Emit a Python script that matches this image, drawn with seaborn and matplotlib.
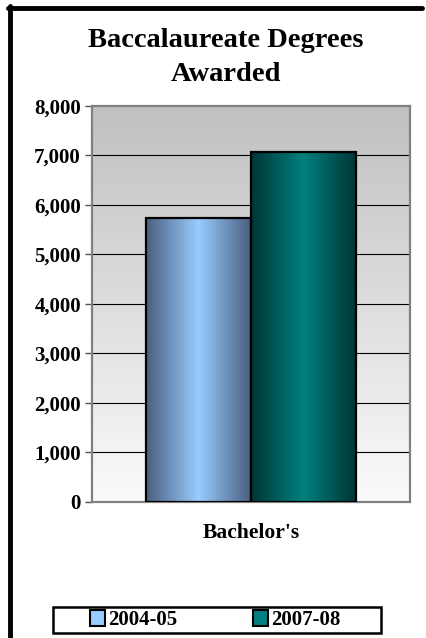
import numpy as np
import pandas as pd
import matplotlib
matplotlib.use('Agg')
import matplotlib.pyplot as plt
import seaborn as sns
from matplotlib.patches import Patch, Rectangle
from matplotlib.lines import Line2D
from matplotlib.colors import LinearSegmentedColormap

categories = ["Bachelor's"]
years = ['2004-05', '2007-08']
values = [5730, 7080]

colors = {'2004-05': '#99ccff', '2007-08': '#008080'}
edge_dark = {'2004-05': '#4a5f80', '2007-08': '#003535'}

df = pd.DataFrame({'degree': categories * len(years), 'year': years, 'count': values})

sns.set_style('white')
plt.rcParams['font.family'] = ['Liberation Serif', 'DejaVu Serif']
plt.rcParams['font.weight'] = 'bold'
plt.rcParams['text.color'] = 'black'
plt.rcParams['xtick.color'] = 'black'
plt.rcParams['ytick.color'] = 'black'

fig = plt.figure(figsize=(4.26, 6.38), dpi=100)
ax = fig.add_axes([0.216, 0.2132, 0.7464, 0.6207])

sns.barplot(data=df, x='degree', y='count', hue='year', palette=colors,
            width=0.66, edgecolor='black', linewidth=1.6, legend=False, ax=ax, zorder=3)

ax.set_ylim(0, 8000)
ax.set_xlim(-0.5, 0.5)

# background gradient gray -> white
bg = np.linspace(0, 1, 256).reshape(-1, 1)
bg_cmap = LinearSegmentedColormap.from_list('bg', ['#fbfbfb', '#c0c0c0'])
ax.imshow(bg, cmap=bg_cmap, aspect='auto', extent=[-0.5, 0.5, 0, 8000],
          origin='lower', zorder=0)

# shaded bars
for patch, yr in zip(ax.patches, years):
    x0, y0 = patch.get_x(), patch.get_y()
    w, h = patch.get_width(), patch.get_height()
    cm = LinearSegmentedColormap.from_list('b', [edge_dark[yr], colors[yr], edge_dark[yr]])
    grad = np.linspace(0, 1, 256).reshape(1, -1)
    im = ax.imshow(grad, cmap=cm, aspect='auto', extent=[x0, x0 + w, y0, y0 + h],
                   origin='lower', zorder=3)
    im.set_clip_path(patch)
    patch.set_facecolor('none')
    patch.set_zorder(4)

ax.set_yticks(range(0, 8001, 1000))
ax.set_yticklabels([f'{v:,}' for v in range(0, 8001, 1000)], fontsize=15, fontweight='bold')
for y in range(1000, 8000, 1000):
    ax.axhline(y, color='black', linewidth=0.8, zorder=1)

ax.tick_params(axis='y', length=5, width=1, color='#555555', left=True, pad=3)
ax.tick_params(axis='x', length=0, pad=15)
for lab in ax.get_xticklabels():
    lab.set_fontsize(15.5)
    lab.set_fontweight('bold')
ax.set_xlabel('')
ax.set_ylabel('')
for s in ax.spines.values():
    s.set_color('#808080')
    s.set_linewidth(1.6)
    s.set_visible(True)

ax.set_title('Baccalaureate Degrees\nAwarded', fontsize=20.5, fontweight='bold',
             pad=18, linespacing=1.45, x=0.42)

handles = [Patch(facecolor=colors[y], edgecolor='black', linewidth=1.5) for y in years]
leg = fig.legend(handles, years, loc='center', bbox_to_anchor=(0.505, 0.028), ncol=2,
                 frameon=False, handlelength=0.75, handleheight=0.75, handletextpad=0.15,
                 columnspacing=3.6, borderpad=0, borderaxespad=0,
                 prop={'weight': 'bold', 'size': 15})

# legend box
fig.add_artist(Rectangle((0.1244, 0.0078), 0.77, 0.0408, transform=fig.transFigure,
                         fill=False, edgecolor='black', linewidth=1.8))

# page border (top and left)
fig.add_artist(Line2D([0.019, 0.99], [0.987, 0.987], color='black', linewidth=3.5))
fig.add_artist(Line2D([0.024, 0.024], [0.0, 0.99], color='black', linewidth=3.5))

fig.savefig('out.png', dpi=100)
